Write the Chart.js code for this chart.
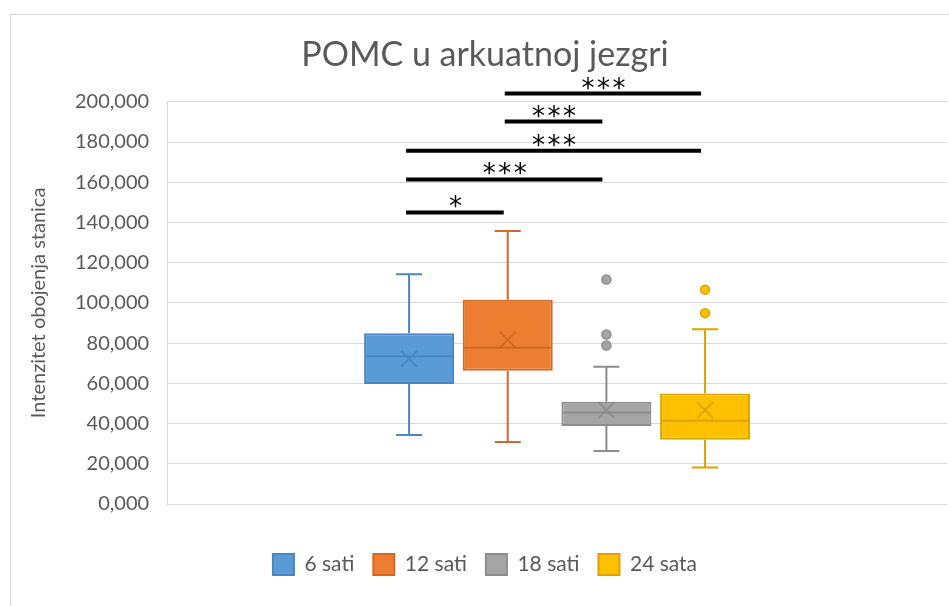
<!DOCTYPE html>
<html>
<head>
<meta charset="utf-8">
<script src="https://cdn.jsdelivr.net/npm/chart.js@4.4.1/dist/chart.umd.min.js"></script>
<style>
    html, body { margin: 0; padding: 0; background: #fff; overflow: hidden; }
    #wrap { position: absolute; left: 10px; top: 14px; border-left: 1px solid #d9d9d9; border-top: 1px solid #d9d9d9; }
    canvas { display: block; }
</style>
</head>
<body>
<div id="wrap"><canvas id="boxChart" width="956" height="591"></canvas></div>
<script>
// Data (units as on the axis)
const categories = ['6 sati', '12 sati', '18 sati', '24 sata'];
const whiskerLow = [34.3, 30.8, 26.3, 18.1];
const quartile1 = [59.7, 66.2, 38.8, 31.9];
const median = [73.5, 77.7, 45.5, 41.4];
const quartile3 = [84.9, 101.6, 50.9, 54.9];
const whiskerHigh = [114.2, 135.7, 68.2, 86.9];
const mean = [72.2, 81.6, 46.7, 46.7];
const outliers = [[], [], [111.6, 84.3, 78.8], [106.6, 94.9]];

// significance bars: pair of series, level, label
const sigPairs = [[1, 3], [1, 2], [0, 3], [0, 2], [0, 1]];
const sigLevels = [204.1, 190.2, 175.7, 161.4, 145.0];
const sigLabels = ['***', '***', '***', '***', '*'];

const yMin = 0, yMax = 200, yStep = 20;

const fills = ['#5b9bd5', '#ed7d31', '#a5a5a5', '#ffc000'];
const lines = ['#4a86c2', '#cf6a27', '#8d8d8d', '#dba400'];
const FONT = 'Lato, "Noto Sans", sans-serif';

// extra box plot parts drawn on top of the floating bars
const boxExtras = {
    id: 'boxExtras',
    afterDatasetsDraw(chart) {
        const ctx = chart.ctx;
        const y = chart.scales.y;
        ctx.save();
        chart.data.datasets.forEach(function (ds, i) {
            const bar = chart.getDatasetMeta(i).data[0];
            if (!bar) return;
            const x = bar.x, half = bar.width / 2;
            ctx.strokeStyle = lines[i];
            ctx.lineWidth = 2;
            // whiskers
            ctx.beginPath();
            ctx.moveTo(x, y.getPixelForValue(quartile3[i]));
            ctx.lineTo(x, y.getPixelForValue(whiskerHigh[i]));
            ctx.moveTo(x, y.getPixelForValue(quartile1[i]));
            ctx.lineTo(x, y.getPixelForValue(whiskerLow[i]));
            ctx.moveTo(x - 13, y.getPixelForValue(whiskerHigh[i]));
            ctx.lineTo(x + 13, y.getPixelForValue(whiskerHigh[i]));
            ctx.moveTo(x - 13, y.getPixelForValue(whiskerLow[i]));
            ctx.lineTo(x + 13, y.getPixelForValue(whiskerLow[i]));
            ctx.stroke();
            // median
            ctx.beginPath();
            ctx.moveTo(x - half + 1, y.getPixelForValue(median[i]));
            ctx.lineTo(x + half - 1, y.getPixelForValue(median[i]));
            ctx.stroke();
            // mean marker
            const my = y.getPixelForValue(mean[i]);
            ctx.beginPath();
            ctx.moveTo(x - 8, my - 8); ctx.lineTo(x + 8, my + 8);
            ctx.moveTo(x + 8, my - 8); ctx.lineTo(x - 8, my + 8);
            ctx.stroke();
            // outliers
            outliers[i].forEach(function (v) {
                ctx.beginPath();
                ctx.arc(x, y.getPixelForValue(v), 4.5, 0, Math.PI * 2);
                ctx.fillStyle = fills[i];
                ctx.fill();
                ctx.lineWidth = 1.5;
                ctx.stroke();
            });
        });

        // significance bars
        ctx.strokeStyle = '#000';
        ctx.fillStyle = '#000';
        ctx.lineWidth = 4;
        ctx.font = '26px "DejaVu Sans", sans-serif';
        ctx.textAlign = 'center';
        ctx.textBaseline = 'alphabetic';
        sigPairs.forEach(function (p, k) {
            const a = chart.getDatasetMeta(p[0]).data[0];
            const b = chart.getDatasetMeta(p[1]).data[0];
            const py = y.getPixelForValue(sigLevels[k]);
            ctx.beginPath();
            ctx.moveTo(a.x - 3, py);
            ctx.lineTo(b.x - 4, py);
            ctx.stroke();
            const n = sigLabels[k].length, mid = (a.x + b.x) / 2 - 3;
            for (let j = 0; j < n; j++) {
                ctx.fillText('*', mid + (j - (n - 1) / 2) * 15.5, py + 3);
            }
        });
        ctx.restore();
    }
};

const datasets = categories.map(function (name, i) {
    return {
        label: name,
        data: [[quartile1[i], quartile3[i]]],
        backgroundColor: fills[i],
        borderColor: lines[i],
        borderWidth: 2,
        borderSkipped: false
    };
});

const boxChart = new Chart(document.getElementById('boxChart'), {
    type: 'bar',
    data: { labels: [''], datasets: datasets },
    options: {
        responsive: false,
        animation: false,
        categoryPercentage: 0.506,
        barPercentage: 0.912,
        layout: { padding: { left: 12, right: 20, top: 0, bottom: 21 } },
        scales: {
            x: {
                display: true,
                ticks: { display: false },
                grid: { display: false },
                border: { display: false },
                afterFit: function (scale) { scale.height = 31; }
            },
            y: {
                min: yMin,
                max: yMax,
                ticks: {
                    stepSize: yStep,
                    padding: 18,
                    color: '#595959',
                    font: { family: FONT, size: 20 },
                    callback: function (v) { return v.toFixed(3).replace('.', ','); }
                },
                grid: { color: '#d9d9d9', drawTicks: false },
                border: { display: true, color: '#d9d9d9' },
                title: {
                    display: true,
                    text: 'Intenzitet obojenja stanica',
                    color: '#595959',
                    font: { family: FONT, size: 20 },
                    padding: { top: 4, bottom: 6 }
                }
            }
        },
        plugins: {
            title: {
                display: true,
                text: 'POMC u arkuatnoj jezgri',
                color: '#595959',
                font: { family: FONT, size: 34, weight: 'normal' },
                padding: { top: 20, bottom: 26 }
            },
            legend: {
                position: 'bottom',
                labels: {
                    boxWidth: 21,
                    boxHeight: 21,
                    padding: 19,
                    color: '#595959',
                    font: { family: FONT, size: 21 }
                }
            },
            tooltip: { enabled: false }
        }
    },
    plugins: [boxExtras]
});
</script>
</body>
</html>
